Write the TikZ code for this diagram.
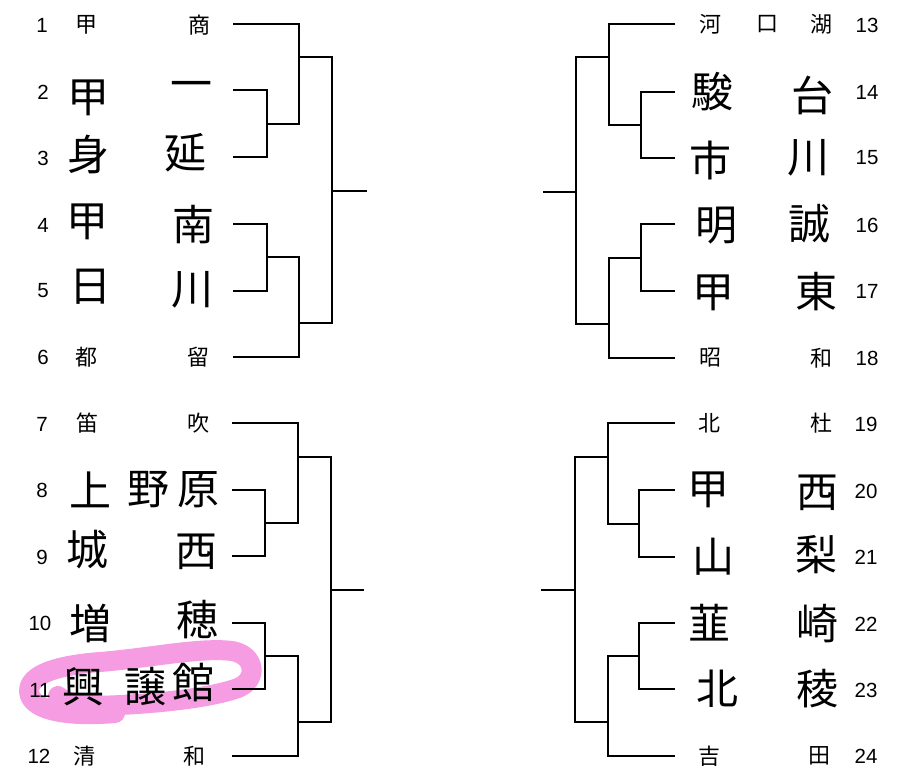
\documentclass[tikz,border=0pt]{standalone}
\usepackage{fontspec}
\setmainfont{Liberation Sans}
\newfontfamily\cjk{Noto Sans CJK JP}
\definecolor{hl}{RGB}{246,156,226}
\begin{document}
\begin{tikzpicture}[x=1pt,y=-1pt,
  num/.style={font=\fontsize{20.5}{20.5}\selectfont, inner sep=0},
  tch/.style={font=\cjk\fontsize{22}{22}\selectfont, inner sep=0},
  hw/.style={font=\cjk\fontsize{42}{42}\selectfont, inner sep=0},
  br/.style={line width=1.6pt, line join=miter},
  mark11/.style={draw=hl, line width=20pt, line cap=round, line join=round}]
\useasboundingbox (0,0) rectangle (899,779);

% highlight
\draw[mark11] (115,713) .. controls (80,716) and (38,714) .. (30,696)
  .. controls (24,678) and (48,666) .. (100,662)
  .. controls (150,658) and (200,647) .. (232,651)
  .. controls (256,655) and (258,680) .. (238,688)
  .. controls (210,698) and (160,703) .. (120,705)
  .. controls (90,707) and (66,704) .. (58,696);

% ---------- left top ----------
\coordinate (a1) at (233,24);  \coordinate (a2) at (233,90);
\coordinate (a3) at (233,157); \coordinate (a4) at (233,224);
\coordinate (a5) at (233,291); \coordinate (a6) at (233,357);
\coordinate (ja) at (267,124); \coordinate (jb) at (267,257);
\coordinate (ka) at (299,57);  \coordinate (kb) at (299,323);
\coordinate (ma) at (332,191); \coordinate (wa) at (367,191);
\draw[br] (a2) -| (ja) |- (a3);
\draw[br] (a1) -| (ka) |- (ja);
\draw[br] (a4) -| (jb) |- (a5);
\draw[br] (jb) -| (kb) |- (a6);
\draw[br] (ka) -| (ma) |- (kb);
\draw[br] (ma) -- (wa);

% ---------- left bottom ----------
\coordinate (b7) at (232,423);  \coordinate (b8) at (232,490);
\coordinate (b9) at (232,556);  \coordinate (b10) at (232,623);
\coordinate (b11) at (232,689); \coordinate (b12) at (232,756);
\coordinate (jc) at (265,523); \coordinate (jd) at (265,656);
\coordinate (kc) at (298,457); \coordinate (kd) at (298,722);
\coordinate (mb) at (331,590); \coordinate (wb) at (364,590);
\draw[br] (b8) -| (jc) |- (b9);
\draw[br] (b7) -| (kc) |- (jc);
\draw[br] (b10) -| (jd) |- (b11);
\draw[br] (jd) -| (kd) |- (b12);
\draw[br] (kc) -| (mb) |- (kd);
\draw[br] (mb) -- (wb);

% ---------- right top ----------
\coordinate (r13) at (675,24);  \coordinate (r14) at (675,92);
\coordinate (r15) at (675,158); \coordinate (r16) at (675,224);
\coordinate (r17) at (675,291); \coordinate (r18) at (675,358);
\coordinate (je) at (641,125); \coordinate (jf) at (641,258);
\coordinate (ke) at (609,57);  \coordinate (kf) at (609,324);
\coordinate (mc) at (576,192); \coordinate (wc) at (543,192);
\draw[br] (r14) -| (je) |- (r15);
\draw[br] (r13) -| (ke) |- (je);
\draw[br] (r16) -| (jf) |- (r17);
\draw[br] (jf) -| (kf) |- (r18);
\draw[br] (ke) -| (mc) |- (kf);
\draw[br] (mc) -- (wc);

% ---------- right bottom ----------
\coordinate (s19) at (675,423); \coordinate (s20) at (675,490);
\coordinate (s21) at (675,557); \coordinate (s22) at (675,623);
\coordinate (s23) at (675,689); \coordinate (s24) at (675,756);
\coordinate (jg) at (639,524); \coordinate (jh) at (639,656);
\coordinate (kg) at (608,457); \coordinate (kh) at (608,722);
\coordinate (md) at (575,590); \coordinate (wd) at (541,590);
\draw[br] (s20) -| (jg) |- (s21);
\draw[br] (s19) -| (kg) |- (jg);
\draw[br] (s22) -| (jh) |- (s23);
\draw[br] (jh) -| (kh) |- (s24);
\draw[br] (kg) -| (md) |- (kh);
\draw[br] (md) -- (wd);

% ---------- numbers ----------
\node[num] (n1) at (42,25) {1};
\node[num] (n2) at (43,92) {2};
\node[num] (n3) at (43,158) {3};
\node[num] (n4) at (43,225) {4};
\node[num] (n5) at (43,291) {5};
\node[num] (n6) at (43,357) {6};
\node[num] (n7) at (42,424) {7};
\node[num] (n8) at (42,490) {8};
\node[num] (n9) at (42,557) {9};
\node[num] (n10) at (40,623) {10};
\node[num] (n11) at (40,690) {11};
\node[num] (n12) at (39,756) {12};
\node[num] (n13) at (867,25) {13};
\node[num] (n14) at (867,92) {14};
\node[num] (n15) at (867,158) {15};
\node[num] (n16) at (867,225) {16};
\node[num] (n17) at (867,291) {17};
\node[num] (n18) at (867,358) {18};
\node[num] (n19) at (866,424) {19};
\node[num] (n20) at (866,491) {20};
\node[num] (n21) at (866,557) {21};
\node[num] (n22) at (866,624) {22};
\node[num] (n23) at (866,690) {23};
\node[num] (n24) at (866,756) {24};

% ---------- typed names ----------
\node[tch] (t1a) at (86,25) {甲};   \node[tch] (t1b) at (199,25) {商};
\node[tch] (t6a) at (86,357) {都};  \node[tch] (t6b) at (198,357) {留};
\node[tch] (t7a) at (87,423) {笛};  \node[tch] (t7b) at (198,423) {吹};
\node[tch] (t12a) at (84,756) {清}; \node[tch] (t12b) at (194,756) {和};
\node[tch] (t13a) at (710,24) {河}; \node[tch] (t13b) at (767,24) {口}; \node[tch] (t13c) at (821,24) {湖};
\node[tch] (t18a) at (710,358) {昭}; \node[tch] (t18b) at (821,358) {和};
\node[tch] (t19a) at (709,423) {北}; \node[tch] (t19b) at (821,423) {杜};
\node[tch] (t24a) at (709,756) {吉}; \node[tch] (t24b) at (819,756) {田};

% ---------- handwritten names ----------
\node[hw] (h2a) at (88,98) {甲};   \node[hw] (h2b) at (191,90) {一};
\node[hw] (h3a) at (88,154) {身};  \node[hw] (h3b) at (185,153) {延};
\node[hw] (h4a) at (87,222) {甲};  \node[hw] (h4b) at (193,225) {南};
\node[hw] (h5a) at (90,287) {日};  \node[hw] (h5b) at (192,290) {川};
\node[hw] (h8a) at (90,490) {上};  \node[hw] (h8b) at (148,490) {野}; \node[hw] (h8c) at (198,490) {原};
\node[hw] (h9a) at (87,550) {城};  \node[hw] (h9b) at (196,552) {西};
\node[hw] (h10a) at (90,623) {増}; \node[hw] (h10b) at (197,620) {穂};
\node[hw] (h11a) at (83,687) {興}; \node[hw] (h11b) at (145,687) {譲}; \node[hw] (h11c) at (193,683) {館};
\node[hw] (h14a) at (712,92) {駿};  \node[hw] (h14b) at (812,95) {台};
\node[hw] (h15a) at (710,160) {市}; \node[hw] (h15b) at (808,158) {川};
\node[hw] (h16a) at (716,226) {明}; \node[hw] (h16b) at (809,224) {誠};
\node[hw] (h17a) at (713,293) {甲}; \node[hw] (h17b) at (816,292) {東};
\node[hw] (h20a) at (708,490) {甲}; \node[hw] (h20b) at (817,493) {西};
\node[hw] (h21a) at (713,557) {山}; \node[hw] (h21b) at (816,555) {梨};
\node[hw] (h22a) at (709,623) {韮}; \node[hw] (h22b) at (817,624) {崎};
\node[hw] (h23a) at (717,689) {北}; \node[hw] (h23b) at (817,689) {稜};
\end{tikzpicture}
\end{document}
